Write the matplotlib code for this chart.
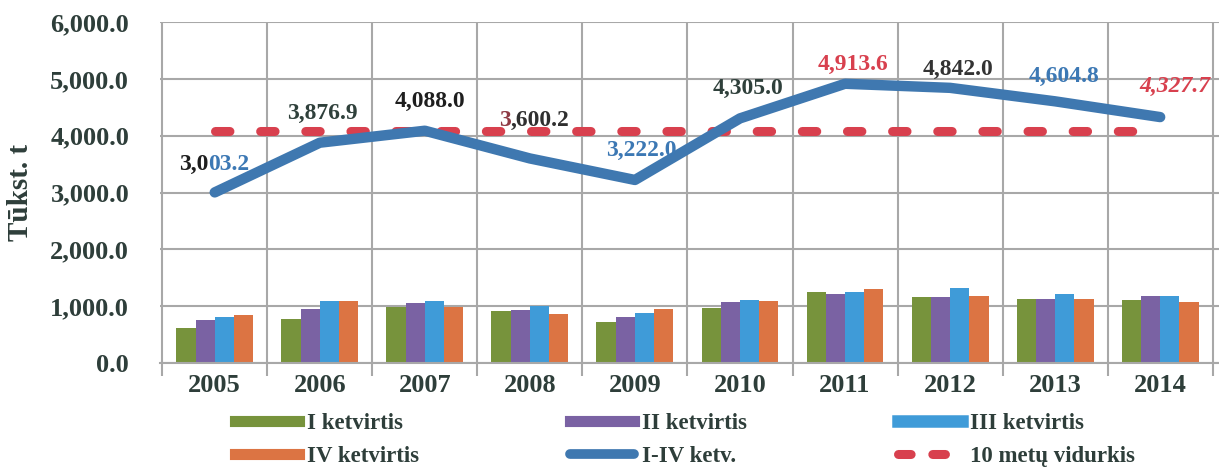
import numpy as np
import matplotlib
matplotlib.use("Agg")
import matplotlib.pyplot as plt
from matplotlib.lines import Line2D

years = ["2005", "2006", "2007", "2008", "2009", "2010", "2011", "2012", "2013", "2014"]
q1 = [620, 770, 990, 920, 730, 970, 1250, 1165, 1120, 1110]
q2 = [755, 945, 1060, 940, 820, 1075, 1220, 1165, 1130, 1180]
q3 = [805, 1095, 1095, 1010, 875, 1110, 1260, 1330, 1220, 1180]
q4 = [840, 1095, 990, 860, 945, 1090, 1300, 1190, 1135, 1070]
total = [3003.2, 3876.9, 4088.0, 3600.2, 3222.0, 4305.0, 4913.6, 4842.0, 4604.8, 4327.7]
avg10 = [4078.3] * 10
# value labels, split in two parts as the scanned chart shows two colours in some
lab_a = ["3,0", "", "", "3", "", "", "", "", "", ""]
lab_b = ["03.2", "3,876.9", "4,088.0", ",600.2", "3,222.0",
         "4,305.0", "4,913.6", "4,842.0", "4,604.8", "4,327.7"]

# label placement
lab_dx = [-0.06, 0.02, 0.05, -0.18, 0.06, 0.08, 0.08, 0.08, 0.08, 0.14]
lab_y = [3500, 4400, 4610, 4260, 3740, 4840, 5260, 5160, 5050, 4870]
col_a = ["#1E1E1E", "", "", "#8E3A44", "", "", "", "", "", ""]
col_b = ["#3C78B4", "#2F403B", "#1E1E1E", "#2F2F2F", "#3C78B4",
         "#2F403B", "#D8404E", "#333333", "#3C78B4", "#D8404E"]

serif = ["Liberation Serif", "DejaVu Serif"]
dark = "#2E3E3A"

green, purple, blue, orange = "#77933C", "#7A62A3", "#3F9BD8", "#DC7443"
line_blue = "#3F78B0"
red = "#D8404E"

fig = plt.figure(figsize=(12.19, 4.68), dpi=100)
ax = fig.add_axes([0.131, 0.224, 0.869, 0.729])

x = np.arange(len(years))
w = 0.183
for i, (vals, c) in enumerate(zip([q1, q2, q3, q4], [green, purple, blue, orange])):
    ax.bar(x + (i - 1.5) * w, vals, width=w, color=c, zorder=2)

ax.plot(x, avg10, color=red, lw=6.5, dashes=(1.6, 3.4), dash_capstyle="round", zorder=3)
ax.plot(x, total, color=line_blue, lw=7.5, solid_capstyle="round", solid_joinstyle="round", zorder=4)

for i in range(len(years)):
    style = "italic" if i == 9 else "normal"
    kw = dict(va="center", fontsize=17, fontweight="bold", fontstyle=style, family=serif, zorder=5)
    if lab_a[i]:
        ax.text(x[i] + lab_dx[i], lab_y[i], lab_a[i], ha="right", color=col_a[i], **kw)
        ax.text(x[i] + lab_dx[i], lab_y[i], lab_b[i], ha="left", color=col_b[i], **kw)
    else:
        ax.text(x[i] + lab_dx[i], lab_y[i], lab_b[i], ha="center", color=col_b[i], **kw)

ax.set_xlim(-0.524, 9.56)
ax.set_ylim(0, 6000)
ax.set_yticks(np.arange(0, 6001, 1000))
ax.set_yticklabels([f"{v:,.1f}" for v in np.arange(0, 6001, 1000)])
ax.set_xticks(x)
ax.set_xticklabels(years)
ax.set_xticks(np.arange(-0.5, 10, 1), minor=True)

ax.grid(axis="y", color="#A8A8A8", lw=1.5, zorder=0)
ax.grid(axis="x", which="minor", color="#A8A8A8", lw=1.5, zorder=0)
ax.tick_params(axis="x", which="major", length=0, pad=8)
ax.tick_params(axis="x", which="minor", length=9, width=1.5, color="#A8A8A8")
ax.tick_params(axis="y", length=0, pad=22)
for lab in ax.get_xticklabels():
    lab.set_family(serif)
    lab.set_fontweight("bold")
    lab.set_fontsize(19)
    lab.set_color(dark)
for lab in ax.get_yticklabels():
    lab.set_family(serif)
    lab.set_fontweight("bold")
    lab.set_fontsize(19)
    lab.set_color(dark)
for s in ["top", "right", "left"]:
    ax.spines[s].set_visible(False)
ax.spines["bottom"].set_color("#A8A8A8")
ax.spines["bottom"].set_linewidth(1.5)

ax.set_ylabel("Tūkst. t", family=serif, fontweight="bold", fontsize=21, color=dark, labelpad=12)

handles = [
    Line2D([], [], color=green, lw=8),
    Line2D([], [], color=orange, lw=8),
    Line2D([], [], color=purple, lw=8),
    Line2D([], [], color=line_blue, lw=7, solid_capstyle="round"),
    Line2D([], [], color=blue, lw=9),
    Line2D([], [], color=red, lw=6.5, dashes=(1.4, 2.4), dash_capstyle="round"),
]
labels = ["I ketvirtis", "IV ketvirtis", "II ketvirtis", "I-IV ketv.", "III ketvirtis", "10 metų vidurkis"]
fig.legend(handles, labels, ncol=3, loc="upper left", bbox_to_anchor=(0.183, 0.143),
           frameon=False, borderpad=0, handlelength=2.8, handletextpad=0.35,
           columnspacing=6.6, labelspacing=0.55,
           prop={"family": serif, "weight": "bold", "size": 16.5}, labelcolor=dark)

fig.savefig("out.png", dpi=100)
